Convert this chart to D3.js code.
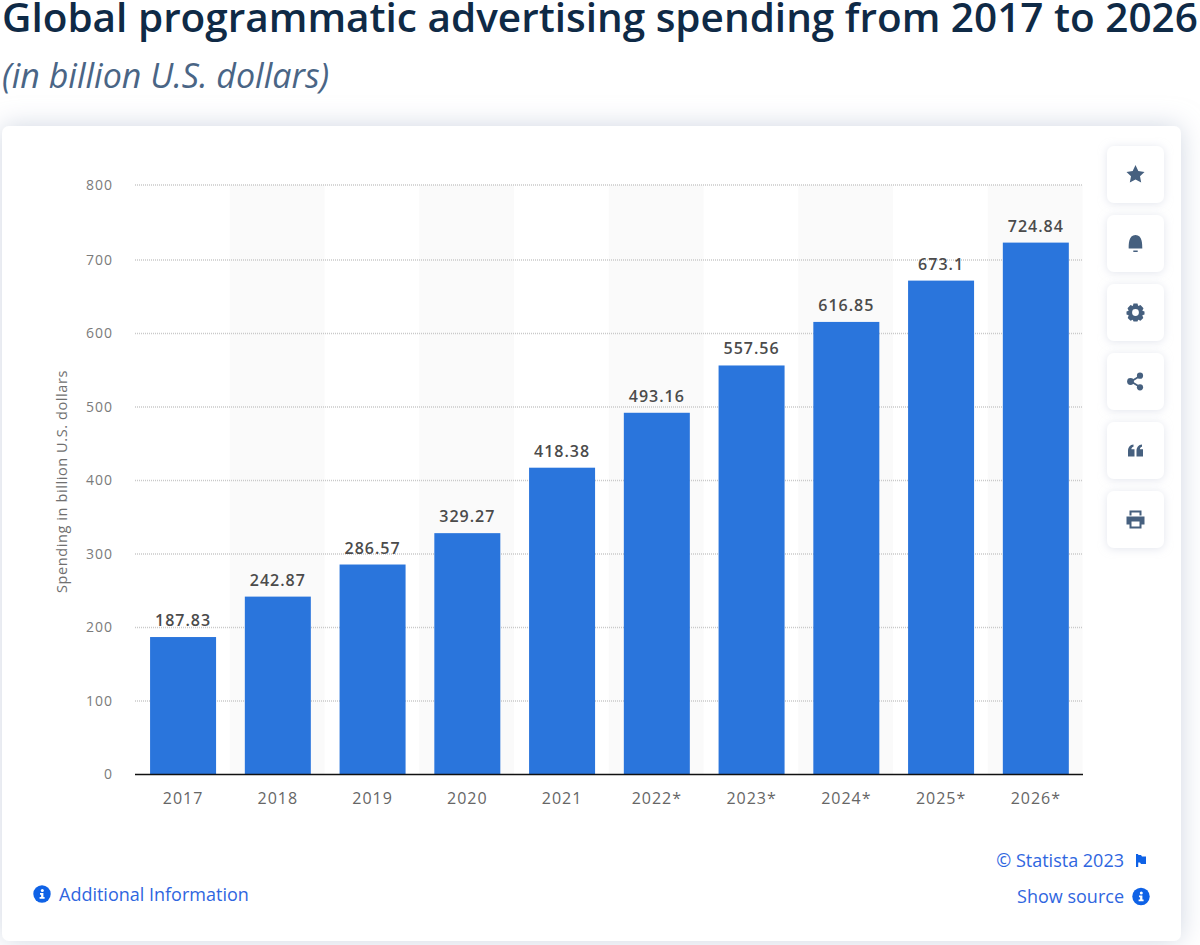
<!DOCTYPE html>
<html>
<head>
<meta charset="utf-8">
<script src="https://cdn.jsdelivr.net/npm/d3@7"></script>
<style>
html, body { margin: 0; padding: 0; background: #fff; overflow: hidden; }
svg { display: block; font-family: "Open Sans", sans-serif; }
</style>
</head>
<body>
<svg id="chart" width="1200" height="945"></svg>
<script>
var years = ['2017', '2018', '2019', '2020', '2021', '2022*', '2023*', '2024*', '2025*', '2026*'];
var spending = [187.83, 242.87, 286.57, 329.27, 418.38, 493.16, 557.56, 616.85, 673.1, 724.84];
var valueLabels = ['187.83', '242.87', '286.57', '329.27', '418.38', '493.16', '557.56', '616.85', '673.1', '724.84'];
var yTicks = [0, 100, 200, 300, 400, 500, 600, 700, 800];

var svg = d3.select('#chart');

var defs = svg.append('defs');
var cardShadow = defs.append('filter').attr('id', 'cardShadow')
  .attr('x', '-6%').attr('y', '-8%').attr('width', '112%').attr('height', '116%');
cardShadow.append('feDropShadow').attr('dx', 0).attr('dy', 0).attr('stdDeviation', 13)
  .attr('flood-color', '#bcc5d6').attr('flood-opacity', 0.7);

var btnShadow = defs.append('filter').attr('id', 'btnShadow')
  .attr('x', '-30%').attr('y', '-30%').attr('width', '160%').attr('height', '160%');
btnShadow.append('feDropShadow').attr('dx', 0).attr('dy', 1).attr('stdDeviation', 4)
  .attr('flood-color', '#c5ccdb').attr('flood-opacity', 0.5);

// page + card
svg.append('rect').attr('width', 1200).attr('height', 945).attr('fill', '#fff');
svg.append('rect').attr('x', 2).attr('y', 126).attr('width', 1179).attr('height', 815).attr('rx', 7)
  .attr('fill', '#fff').attr('filter', 'url(#cardShadow)');

// title
svg.append('text').attr('x', 2).attr('y', 32)
  .style('font-size', '40.5px').style('font-weight', 600).style('fill', '#0f2a46')
  .text('Global programmatic advertising spending from 2017 to 2026');
svg.append('text').attr('x', 2).attr('y', 88)
  .style('font-size', '34px').style('font-style', 'italic').style('font-weight', 400).style('fill', '#4a6585')
  .text('(in billion U.S. dollars)');

// scales - top gridline sits a little high in the picture, bars run on a slightly flatter scale
var x = d3.scaleBand().domain(years).range([135, 1082.5]);
var y = d3.scaleLinear().domain([0, 700, 800]).range([774.5, 260, 185]);
var barY = d3.scaleLinear().domain([0, 800]).range([775, 187.4]);
var barWidth = 66;
var barShift = 0.7;

// zebra bands on every second year
svg.append('g').selectAll('rect')
  .data(years.filter(function(d, i) { return i % 2 == 1; }))
  .enter().append('rect')
  .attr('x', function(d) { return x(d); })
  .attr('y', y(800))
  .attr('width', x.bandwidth())
  .attr('height', y(0) - y(800))
  .attr('fill', '#fafafa');

// grid + y axis
var yAxis = d3.axisLeft(y).tickValues(yTicks).tickSize(0).tickPadding(0);
var yG = svg.append('g').attr('transform', 'translate(113,0)').call(yAxis);
yG.select('.domain').remove();
yG.selectAll('text').style('font-family', '"Open Sans", sans-serif').style('font-size', '14px')
  .style('fill', '#7b7b7b').style('letter-spacing', '1px');

svg.append('g').selectAll('line')
  .data(yTicks.filter(function(d) { return d > 0; }))
  .enter().append('line')
  .attr('x1', 135).attr('x2', 1083)
  .attr('y1', function(d) { return y(d); })
  .attr('y2', function(d) { return y(d); })
  .attr('stroke', '#c9c9c9').attr('stroke-width', 1.3).attr('stroke-dasharray', '1 1');

// bars
svg.append('g').selectAll('rect')
  .data(spending)
  .enter().append('rect')
  .attr('x', function(d, i) { return x(years[i]) + (x.bandwidth() - barWidth) / 2 + barShift; })
  .attr('y', function(d) { return barY(d); })
  .attr('width', barWidth)
  .attr('height', function(d) { return y(0) - barY(d); })
  .attr('fill', '#2a75dc');

// value labels
svg.append('g').selectAll('text')
  .data(spending)
  .enter().append('text')
  .attr('x', function(d, i) { return x(years[i]) + x.bandwidth() / 2 + barShift; })
  .attr('y', function(d) { return barY(d) - 11; })
  .attr('text-anchor', 'middle')
  .style('font-size', '16px').style('font-weight', 600).style('fill', '#4b4b4b').style('letter-spacing', '1px')
  .text(function(d, i) { return valueLabels[i]; });

// x axis
var xAxis = d3.axisBottom(x).tickSize(0).tickPadding(0);
var xG = svg.append('g').attr('transform', 'translate(0,774.5)').call(xAxis);
xG.select('.domain').attr('stroke', '#111').attr('stroke-width', 1.5).attr('d', 'M135,0H1083');
xG.selectAll('text').attr('dy', 0).attr('y', 29).attr('x', barShift)
  .style('font-family', '"Open Sans", sans-serif').style('font-size', '16px')
  .style('fill', '#666').style('letter-spacing', '1px');

// y axis title
svg.append('text').attr('transform', 'translate(67,481.5) rotate(-90)')
  .attr('text-anchor', 'middle')
  .style('font-size', '14.5px').style('fill', '#707070').style('letter-spacing', '0.6px')
  .text('Spending in billion U.S. dollars');

// footer links
var linkBlue = '#0f62e6';
function infoIcon(cx, cy) {
  var g = svg.append('g').attr('transform', 'translate(' + cx + ',' + cy + ')');
  g.append('circle').attr('r', 8.7).attr('fill', linkBlue);
  g.append('circle').attr('cx', 0.3).attr('cy', -3.6).attr('r', 1.5).attr('fill', '#fff');
  g.append('path').attr('d', 'M-2-1H1.4V3H2.6V4.8H-2.4V3H-0.9V0.8H-2Z').attr('fill', '#fff');
}
infoIcon(42, 894);
svg.append('text').attr('x', 59).attr('y', 901)
  .style('font-size', '18px').style('fill', '#2f66e0').text('Additional Information');
svg.append('text').attr('x', 1124).attr('y', 867).attr('text-anchor', 'end')
  .style('font-size', '18px').style('fill', '#2f66e0').text('© Statista 2023');
svg.append('path').attr('d', 'M1136 854H1138.2V855H1141L1142 856.5H1146V864H1141L1140 862.5H1138.2V867H1136Z').attr('fill', linkBlue);
svg.append('text').attr('x', 1124).attr('y', 903).attr('text-anchor', 'end')
  .style('font-size', '18px').style('fill', '#2f66e0').text('Show source');
infoIcon(1141, 896.5);

// side buttons
var buttonTops = [146, 215, 284, 353, 422, 491];
var iconColor = '#46607f';
var iconPaths = [
  'M0-9.5L2.8-3.4 9-2.6 4.5 1.8 5.7 8 0 5 -5.7 8 -4.5 1.8 -9-2.6 -2.8-3.4Z',
  'M-6.8 5C-6.8 1-7-8.5 0-8.5S6.8 1 6.8 5ZM-2.2 7H2.2V8.6H-2.2Z',
  'M-2-9H2L2.7-6.4 5-7.4 8-4.2 6.8-1.8 9-1V2L6.8 2.8 7.8 5.4 5 8.2 2.7 7.2 2 9H-2L-2.7 7.2-5 8.2-7.8 5.4-6.8 2.8-9 2V-1L-6.8-1.8-8-4.2-5-7.4-2.7-6.4ZM0-3.4A3.4 3.4 0 1 0 0 3.4 3.4 3.4 0 1 0 0-3.4Z',
  null,
  'M-7.5 6V0.5C-7.5-3-5.5-5.8-2-6V-3.8C-3.4-3.5-4-2.6-4.1-1.3H-1V6ZM1 6V0.5C1-3 3-5.8 6.5-6V-3.8C5.1-3.5 4.5-2.6 4.4-1.3H7.5V6Z',
  'M-6-9H6V-4H4V-7H-4V-4H-6ZM-9-3H9V5H6V9H-6V5H-9ZM-4 2V7H4V2Z'
];
var btns = svg.append('g').selectAll('g')
  .data(buttonTops)
  .enter().append('g')
  .attr('transform', function(d) { return 'translate(1107,' + d + ')'; });
btns.append('rect').attr('width', 57).attr('height', 57).attr('rx', 7)
  .attr('fill', '#fff').attr('filter', 'url(#btnShadow)');
btns.append('g').attr('transform', 'translate(28.5,28.5)').each(function(d, i) {
  var g = d3.select(this);
  if (iconPaths[i]) {
    g.append('path').attr('d', iconPaths[i]).attr('fill', iconColor).attr('fill-rule', 'evenodd');
  } else {
    g.append('path').attr('d', 'M4.5-5.5L-4.5 0 4.5 5.5').attr('fill', 'none').attr('stroke', iconColor).attr('stroke-width', 1.8);
    g.append('circle').attr('cx', -5).attr('cy', 0).attr('r', 3.4).attr('fill', iconColor);
    g.append('circle').attr('cx', 4.5).attr('cy', -5.8).attr('r', 3.1).attr('fill', iconColor);
    g.append('circle').attr('cx', 4.5).attr('cy', 5.8).attr('r', 3.1).attr('fill', iconColor);
  }
});
</script>
</body>
</html>
